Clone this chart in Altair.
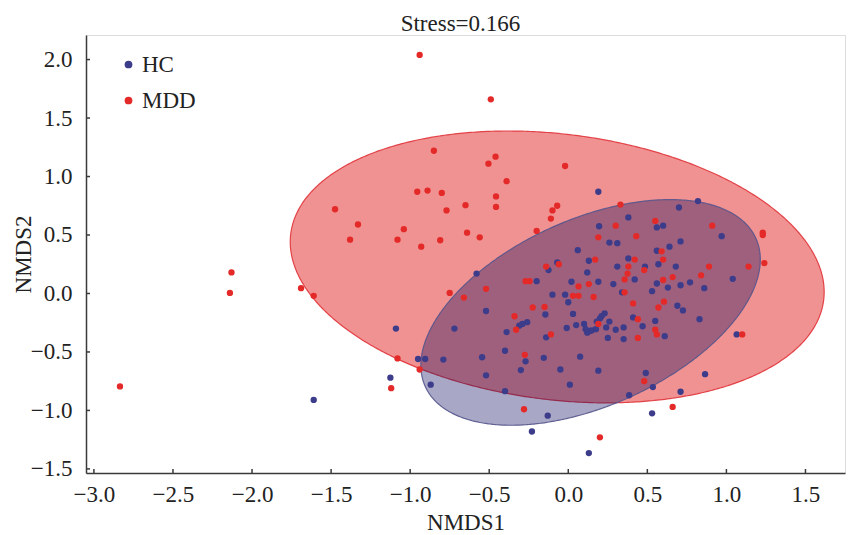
import numpy as np
import pandas as pd
import altair as alt

# ---------------- data ----------------
hc_x = [0.19, 0.38, 0.195, 0.56, 0.60, 0.26, 0.31, 0.70, 0.82, 0.97, 0.71, 0.64, 0.56,
        0.06, 0.13, 0.38, 0.57, -0.07, 0.31, 0.485, 0.68, -0.125, -0.58, 0.42, 0.12,
        -0.20, 0.19, 0.285, 0.53, 1.04, 0.56, 0.63, 0.71, 0.77, 0.86, -0.52, -0.72,
        -0.905, -0.95, -0.79, -0.87, -0.545, -0.52, -0.40, -0.40, -0.13, -0.23, 0.13,
        0.53, 0.71, 0.535, 0.385, 0.49, 0.865, 1.065, 0.83, 0.69, 0.725, 0.55, 0.61,
        0.47, 0.41, 0.34, 0.02, -0.02, 0.0, -0.10, -0.145, 0.03, -0.01, 0.05, 0.10,
        0.11, 0.137, 0.15, 0.175, 0.12, 0.23, 0.21, 0.20, 0.18, 0.24, 0.26, 0.30, 0.35,
        0.25, 0.35, -0.26, -0.29, -0.31, -0.39, -0.14, -0.27, -0.30, -0.155, -0.05,
        0.075, 0.19, 0.01, -1.09, -1.125, -1.61]
hc_y = [0.87, 0.65, 0.575, 0.565, 0.58, 0.435, 0.43, 0.735, 0.79, 0.49, 0.445, 0.40, 0.365,
        0.37, 0.28, 0.30, 0.25, 0.265, 0.23, 0.23, 0.23, 0.20, 0.17, 0.12, 0.18,
        0.105, 0.10, 0.08, 0.02, 0.125, 0.085, 0.05, 0.07, 0.095, 0.045, -0.15, -0.30,
        -0.56, -0.56, -0.565, -0.78, -0.545, -0.70, -0.49, -0.835, -1.045, -1.18, -1.365,
        -1.025, -0.84, -0.80, -0.87, -0.68, -0.69, -0.35, -0.22, -0.105, -0.145, -0.235, -0.365,
        -0.28, -0.205, 0.01, 0.10, -0.01, -0.075, -0.01, -0.18, -0.175, -0.295, -0.27, -0.26,
        -0.305, -0.32, -0.315, -0.305, -0.335, -0.17, -0.195, -0.215, -0.24, -0.29, -0.24, -0.31, -0.39,
        -0.38, -0.29, -0.245, -0.26, -0.275, -0.33, -0.375, -0.58, -0.655, -0.55, -0.65,
        -0.54, -0.66, -0.78, -0.30, -0.72, -0.91]

mdd_x = [-0.94, -1.475, -1.33, -1.38, -0.955, -0.89, -1.04, -1.08, -0.93, -0.85, -0.80,
         -0.81, -0.77, -0.65, -0.64, -1.69, -1.61, -0.75, -0.49, -0.46, -0.505, -0.02,
         -0.39, -0.457, -0.457, -0.56, -0.07, -0.10, -0.11, -0.20, 0.33, 0.30, 0.19, 0.43,
         0.55, 0.91, 1.23, 1.23, 0.59, 0.17, 0.42, 0.60, 1.24, -0.14, -0.06, 0.38, 0.89,
         1.14, 0.375, 0.356, 0.48, -0.27, -0.245, 0.13, 0.065, -0.52, 0.16, 0.356, 0.66,
         0.84, 0.60, -0.66, -0.94, -0.28, 0.20, 0.66, 0.48, 1.10, 0.605, 0.57, 0.55, 0.56,
         0.44, 0.44, 0.41, 0.03, 0.065, -0.15, -0.225, 0.19, -0.33, -0.34, -0.11, -0.275,
         -1.08, -1.12, -2.13, -2.14, -2.835]
mdd_y = [2.04, 0.72, 0.59, 0.46, 0.87, 0.88, 0.55, 0.46, 0.40, 1.22, 0.86,
         0.455, 0.71, 0.755, 0.52, 0.045, -0.02, 0.005, 1.66, 1.17, 1.11, 1.09,
         0.96, 0.83, 0.74, 0.48, 0.75, 0.71, 0.64, 0.535, 0.76, 0.58, 0.48, 0.49,
         0.62, 0.58, 0.52, 0.50, 0.36, 0.29, 0.29, 0.29, 0.26, 0.23, 0.25, 0.23, 0.23,
         0.23, 0.17, 0.12, 0.20, 0.105, 0.105, 0.08, 0.06, 0.04, -0.03, 0.01, 0.14,
         0.155, 0.115, -0.035, -0.65, -0.99, -1.23, -0.97, -0.75, -0.35, -0.07, -0.12, -0.31, -0.35,
         -0.22, -0.38, -0.085, -0.02, -0.02, -0.115, -0.12, -0.26, -0.31, -0.195, -0.35, -0.525,
         -0.555, -0.81, 0.18, 0.005, -0.795]

# confidence ellipses: centre and two conjugate semi-axis vectors (data units)
mdd_center = (-0.07, 0.227)
mdd_u = (1.685, -0.284)
mdd_v = (-0.104, -1.127)
hc_center = (0.141, -0.162)
hc_u = (1.046, 0.632)
hc_v = (0.241, -0.729)

groups = ["HC", "MDD"]
x_ticks = [-3.0, -2.5, -2.0, -1.5, -1.0, -0.5, 0.0, 0.5, 1.0, 1.5]
y_ticks = [-1.5, -1.0, -0.5, 0.0, 0.5, 1.0, 1.5, 2.0]

# ---------------- build tables ----------------
pts = pd.concat([
    pd.DataFrame({"x": hc_x, "y": hc_y, "group": "HC"}),
    pd.DataFrame({"x": mdd_x, "y": mdd_y, "group": "MDD"}),
], ignore_index=True)


def ellipse_df(c, u, v, n=300):
    R = np.hypot(u[0], v[0])
    a = np.arctan2(v[0], u[0])
    th = np.linspace(0, np.pi, n)
    x = c[0] + R * np.cos(th)
    y1 = c[1] + u[1] * np.cos(a + th) + v[1] * np.sin(a + th)
    y2 = c[1] + u[1] * np.cos(a - th) + v[1] * np.sin(a - th)
    return pd.DataFrame({"x": x, "y1": y1, "y2": y2})


ell_mdd = ellipse_df(mdd_center, mdd_u, mdd_v)
ell_hc = ellipse_df(hc_center, hc_u, hc_v)

W, H = 759, 438
FONT = "Liberation Serif"
AX = "#3a3a3a"

xs = alt.Scale(domain=[-3.05, 1.75], nice=False, zero=False)
ys = alt.Scale(domain=[-1.535, 2.21], nice=False, zero=False)

x_axis = alt.Axis(values=x_ticks, format=".1f", title="NMDS1", grid=False,
                  ticks=False, tickSize=0, labelPadding=10, titlePadding=5,
                  domainColor=AX, domainWidth=1.5, labelFont=FONT, labelFontSize=23,
                  labelColor="#222", titleFont=FONT, titleFontSize=23,
                  titleFontWeight="normal", titleColor="#222", labelFlush=False)
y_axis = alt.Axis(values=y_ticks, format=".1f", title="NMDS2", grid=False,
                  ticks=False, tickSize=0, labelPadding=14, titlePadding=0,
                  titleBaseline="alphabetic",
                  domainColor=AX, domainWidth=1.5, labelFont=FONT, labelFontSize=23,
                  labelColor="#222", titleFont=FONT, titleFontSize=23,
                  titleFontWeight="normal", titleColor="#222", labelFlush=False)

X = lambda f: alt.X(f, scale=xs, axis=x_axis)
Y = lambda f: alt.Y(f, scale=ys, axis=y_axis)

red_ell = alt.Chart(ell_mdd).mark_area(
    fill="#e32626", fillOpacity=0.5, stroke="#e0343a", strokeWidth=1.2, strokeOpacity=0.9
).encode(x=X("x:Q"), y=Y("y1:Q"), y2="y2:Q")

blue_ell = alt.Chart(ell_hc).mark_area(
    fill="#000058", fillOpacity=0.34, stroke="#55558c", strokeWidth=1.2, strokeOpacity=0.9
).encode(x=X("x:Q"), y=Y("y1:Q"), y2="y2:Q")

points = alt.Chart(pts).mark_circle(size=40, opacity=1).encode(
    x=X("x:Q"),
    y=Y("y:Q"),
    color=alt.Color("group:N",
                    scale=alt.Scale(domain=groups, range=["#3c3c8a", "#e42a28"]),
                    legend=alt.Legend(title=None, orient="none", legendX=31, legendY=18,
                                      symbolType="circle", symbolSize=60, symbolOpacity=1,
                                      labelFont=FONT, labelFontSize=23, labelColor="#222",
                                      labelOffset=2, rowPadding=12, padding=0)),
    order=alt.Order("group:N"),
)

xt = alt.Chart(pd.DataFrame({"t": x_ticks})).mark_rule(color=AX, strokeWidth=1.5).encode(
    x=X("t:Q"), y=alt.value(H), y2=alt.value(H - 4),
)
yt = alt.Chart(pd.DataFrame({"t": y_ticks})).mark_rule(color=AX, strokeWidth=1.5).encode(
    y=Y("t:Q"), x=alt.value(0), x2=alt.value(4),
)

chart = alt.layer(red_ell, blue_ell, points, xt, yt).properties(
    width=W, height=H,
    title=alt.TitleParams("Stress=0.166", font=FONT, fontSize=23, fontWeight="normal",
                          color="#222", anchor="middle", baseline="bottom",
                          offset=0, dx=-5, dy=24, frame="group"),
    autosize=alt.AutoSizeParams(type="none"),
    padding={"left": 86, "top": 35, "right": 6, "bottom": 62},
).configure_view(stroke=None).configure(background="white")

chart.save("out.html", embed_options={"renderer": "svg", "actions": False})
